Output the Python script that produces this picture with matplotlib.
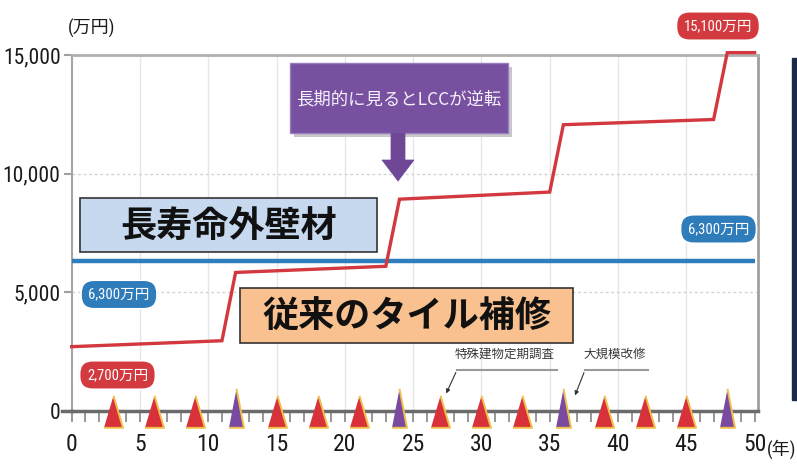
import matplotlib
matplotlib.use('Agg')
import matplotlib.pyplot as plt
from matplotlib import font_manager
from matplotlib.patches import Rectangle, Polygon, FancyArrowPatch
from matplotlib.lines import Line2D

# ---------------- data ----------------
years_tile = [0, 11, 12, 23, 24, 35, 36, 47, 48, 50]
cost_tile = [2700, 2950, 5830, 6090, 8920, 9220, 12060, 12280, 15100, 15100]
years_long = [0, 50]
cost_long = [6300, 6300]
inspection_years = [3, 6, 9, 15, 18, 21, 27, 30, 33, 39, 42, 45]
renovation_years = [12, 24, 36, 48]
x_ticks = [0, 5, 10, 15, 20, 25, 30, 35, 40, 45, 50]
x_tick_labels = ['0', '5', '10', '15', '20', '25', '30', '35', '40', '45', '50']
y_ticks = [0, 5000, 10000, 15000]
y_tick_labels = ['0', '5,000', '10,000', '15,000']
y_unit = '(万円)'
x_unit = '(年)'
label_long_end = '6,300万円'
label_long_start = '6,300万円'
label_tile_end = '15,100万円'
label_tile_start = '2,700万円'
title_long = '長寿命外壁材'
title_tile = '従来のタイル補修'
callout = '長期的に見るとLCCが逆転'
note_inspection = '特殊建物定期調査'
note_renovation = '大規模改修'


def pick(cands):
    for c in cands:
        try:
            font_manager.findfont(font_manager.FontProperties(family=c),
                                  fallback_to_default=False)
            return c
        except Exception:
            pass
    return 'DejaVu Sans'


NARROW = pick(['Liberation Sans Narrow', 'Roboto Condensed', 'DejaVu Sans'])
CJK = 'Noto Sans CJK JP'
MIX = [NARROW, CJK]

W, H = 797, 470
fig = plt.figure(figsize=(W / 100, H / 100), dpi=100)
fig.patch.set_facecolor('white')


def P(x, y):
    return (x / W, 1 - y / H)


x0, x1, ytop, ybot = 71.7, 758.0, 55.0, 410.7
ax = fig.add_axes([x0 / W, 1 - ybot / H, (x1 - x0) / W, (ybot - ytop) / H])
ax.set_xlim(0, 50.25)
ax.set_ylim(0, 15000)

# grid
for gx in range(5, 50, 5):
    ax.axvline(gx, color='#e6e6e6', lw=1, zorder=0)
for gy in (5000, 10000):
    ax.axhline(gy, color='#d2d2d2', lw=1, ls=(0, (2, 2)), zorder=0)

# lines
ax.plot(years_long, cost_long, color='#2e7dbd', lw=3.2, zorder=3,
        solid_capstyle='butt')
ax.plot(years_tile, cost_tile, color='#d3383f', lw=2.4, zorder=4,
        clip_on=False, solid_joinstyle='miter')

# triangles
red_tri = [(-9.5, -16.3), (9.5, -16.3), (0, 15.7)]
pur_tri = [(-7.5, -16.3), (7.5, -16.3), (0, 22.7)]
ax.plot(inspection_years, [0] * len(inspection_years), ls='none',
        marker=red_tri, ms=23.5, mfc='#d8313a', mec='#f0c04a', mew=1.4,
        clip_on=False, zorder=6)
ax.plot(renovation_years, [0] * len(renovation_years), ls='none',
        marker=pur_tri, ms=32.7, mfc='#7a4aa0', mec='#f0c04a', mew=1.4,
        clip_on=False, zorder=6)

# spines
ax.spines['bottom'].set_color('#6b6b6b')
ax.spines['bottom'].set_linewidth(2.5)
ax.spines['left'].set_color('#a5a5a5')
ax.spines['left'].set_linewidth(1.5)
ax.spines['top'].set_color('#b0b0b0')
ax.spines['top'].set_linewidth(2)
ax.spines['right'].set_color('#a0a0a0')
ax.spines['right'].set_linewidth(2)
fig.add_artist(Line2D([62 / W, x0 / W], [1 - ybot / H] * 2, color='#6b6b6b',
                      lw=2.5, transform=fig.transFigure))

# ticks
ax.set_xticks(x_ticks, x_tick_labels)
ax.set_xticks(range(0, 51), minor=True)
ax.tick_params(axis='x', which='both', direction='out', length=8, width=1.3,
               color='#8f8f8f', pad=8)
ax.set_yticks(y_ticks, y_tick_labels)
ax.tick_params(axis='y', direction='out', length=6, width=1.5,
               color='#a0a0a0', pad=2)
for lb in ax.get_xticklabels():
    lb.set_fontfamily(MIX)
    lb.set_fontsize(17)
    lb.set_color('#1a1a1a')
for lb in ax.get_yticklabels():
    lb.set_fontfamily(MIX)
    lb.set_fontsize(15.5)
    lb.set_color('#1a1a1a')

fig.text(*P(767, 449), x_unit, family=MIX, fontsize=13, color='#1a1a1a',
         ha='left', va='center')
fig.text(*P(92, 28), y_unit, family=MIX, fontsize=13, color='#1a1a1a',
         ha='center', va='center')

# dark strip at right edge
fig.add_artist(Rectangle(P(792, 400), 5 / W, 342 / H, transform=fig.transFigure,
                         color='#1c2b45', zorder=0))


def box(xl, yt, xr, yb, fc, ec, lw=1.2, z=10):
    fig.add_artist(Rectangle(P(xl, yb), (xr - xl) / W, (yb - yt) / H,
                             transform=fig.transFigure, fc=fc, ec=ec, lw=lw,
                             zorder=z))


# big title boxes
box(80, 198, 377, 252, '#c6d9ef', '#333333')
fig.text(*P(228.5, 226), title_long, family=CJK, fontweight='bold',
         fontsize=26, ha='center', va='center', color='#111111', zorder=11)
box(240, 288, 573, 343, '#f9c190', '#333333')
fig.text(*P(406.5, 317), title_tile, family=CJK, fontweight='bold',
         fontsize=26, ha='center', va='center', color='#111111', zorder=11)

# purple callout
box(294, 67, 512, 137, '#c8c8c8', 'none', lw=0, z=9)
box(290, 63, 508, 133, '#7750a0', '#9a7cbf', lw=1, z=10)
arrow = [(391, 133), (405, 133), (405, 160), (414, 160), (398, 181),
         (382, 160), (391, 160)]
fig.add_artist(Polygon([P(*v) for v in arrow], closed=True,
                       transform=fig.transFigure, fc='#6e4796', ec='#6e4796',
                       lw=0.5, zorder=10))
fig.text(*P(399, 99), callout, family=CJK, fontsize=12.5, color='#f6f0fb',
         ha='center', va='center', zorder=11)


def vlabel(cx, cy, s, fc):
    fig.text(*P(cx, cy), s, family=MIX, fontsize=10.5, color='white',
             ha='center', va='center', zorder=12,
             bbox=dict(boxstyle='round,pad=0.5,rounding_size=0.9', fc=fc,
                       ec='white', lw=1.2))


vlabel(718, 26, label_tile_end, '#d23a3f')
vlabel(718.5, 229, label_long_end, '#2f7cbb')
vlabel(119, 294.5, label_long_start, '#2f7cbb')
vlabel(117.5, 375, label_tile_start, '#d23a3f')

# notes
fig.text(*P(505, 354), note_inspection, family=CJK, fontsize=9,
         color='#3a3a3a', ha='center', va='center')
fig.add_artist(Line2D([457 / W, 557 / W], [1 - 370 / H] * 2, color='#9a9a9a',
                      lw=1.5, transform=fig.transFigure))
fig.add_artist(FancyArrowPatch(P(457, 370), P(445, 396),
                               transform=fig.transFigure, arrowstyle='-|>',
                               mutation_scale=6, color='#333333', lw=0.8))
fig.text(*P(615, 354), note_renovation, family=CJK, fontsize=9,
         color='#3a3a3a', ha='center', va='center')
fig.add_artist(Line2D([585 / W, 648 / W], [1 - 370 / H] * 2, color='#9a9a9a',
                      lw=1.5, transform=fig.transFigure))
fig.add_artist(FancyArrowPatch(P(585, 370), P(574, 398),
                               transform=fig.transFigure, arrowstyle='-|>',
                               mutation_scale=6, color='#333333', lw=0.8))

fig.savefig('out.png', dpi=100)
